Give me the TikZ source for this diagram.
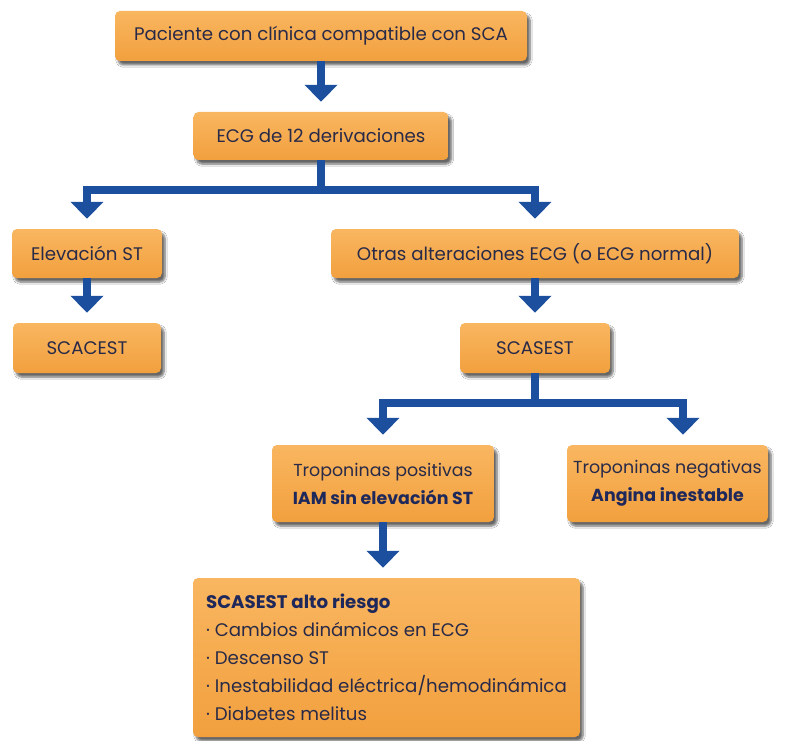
\documentclass[tikz,border=0pt]{standalone}
\usepackage{fontspec}
\setmainfont{Poppins}
\usetikzlibrary{arrows.meta,shadows.blur,calc}
\definecolor{boxtop}{RGB}{249,182,96}
\definecolor{boxbot}{RGB}{242,160,62}
\definecolor{ink}{RGB}{40,42,72}
\definecolor{inkbold}{RGB}{30,40,90}
\definecolor{flow}{RGB}{28,80,158}
\begin{document}
\begin{tikzpicture}[x=1pt,y=-1pt,
  box/.style={rounded corners=5pt, top color=boxtop, bottom color=boxbot, draw=none,
    blur shadow={shadow xshift=3pt, shadow yshift=-4pt, shadow opacity=60, shadow blur steps=6},
    minimum height=50pt, inner sep=0pt, align=center, text=ink,
    font=\fontsize{18.2}{22}\selectfont},
  twoline/.style={font=\fontsize{17.4}{28}\selectfont},
  conn/.style={draw=flow, line width=8pt, line join=miter,
    -{Triangle[width=32pt,length=17pt]}, shorten >=10pt},
  bar/.style={draw=flow, line width=8pt, line join=miter}]
\useasboundingbox (0,0) rectangle (798,741);
\fill[white] (0,0) rectangle (798,741);

% boxes
\node[box, minimum width=412pt] (pac) at (321,36) {Paciente con clínica compatible con SCA};
\node[box, minimum width=255pt, minimum height=48pt] (ecg) at (321,136) {ECG de 12 derivaciones};
\node[box, minimum width=150pt, minimum height=49pt] (elev) at (87,253.5) {Elevación ST};
\node[box, minimum width=148pt] (scacest) at (87,348) {SCACEST};
\node[box, minimum width=408pt, minimum height=49pt] (otras) at (535,253.5) {Otras alteraciones ECG (o ECG normal)};
\node[box, minimum width=150pt] (scasest) at (535,348) {SCASEST};
\node[box, twoline, minimum width=222pt, minimum height=77pt] (tpos) at (383,483.5)
  {Troponinas positivas\\\textcolor{inkbold}{\textbf{IAM sin elevación ST}}};
\node[box, twoline, minimum width=201pt, minimum height=77pt] (tneg) at (667.5,483.5)
  {Troponinas negativas\\\textcolor{inkbold}{\textbf{Angina inestable}}};
\node[box, minimum width=387pt, minimum height=159pt, align=left,
  font=\fontsize{18.2}{28}\selectfont] (alto) at (386.5,657.5)
  {\textcolor{inkbold}{\textbf{SCASEST alto riesgo}}\\
   · Cambios dinámicos en ECG\\
   · Descenso ST\\
   · Inestabilidad eléctrica/hemodinámica\\
   · Diabetes melitus};

% branch points
\coordinate (b1) at (321,190);
\coordinate (b2) at (535,403);
\coordinate (tnegin) at ([xshift=15.5pt]tneg.north);

% connectors
\draw[conn] (pac.south) -- (ecg.north);
\draw[bar] (ecg.south) -- (b1);
\draw[conn] (b1) -| (elev.north);
\draw[conn] (b1) -| (otras.north);
\draw[conn] (elev.south) -- (scacest.north);
\draw[conn] (otras.south) -- (scasest.north);
\draw[bar] (scasest.south) -- (b2);
\draw[conn] (b2) -| (tpos.north);
\draw[conn] (b2) -| (tnegin);
\draw[conn] (tpos.south) -- (alto.north -| tpos.south);
\end{tikzpicture}
\end{document}
